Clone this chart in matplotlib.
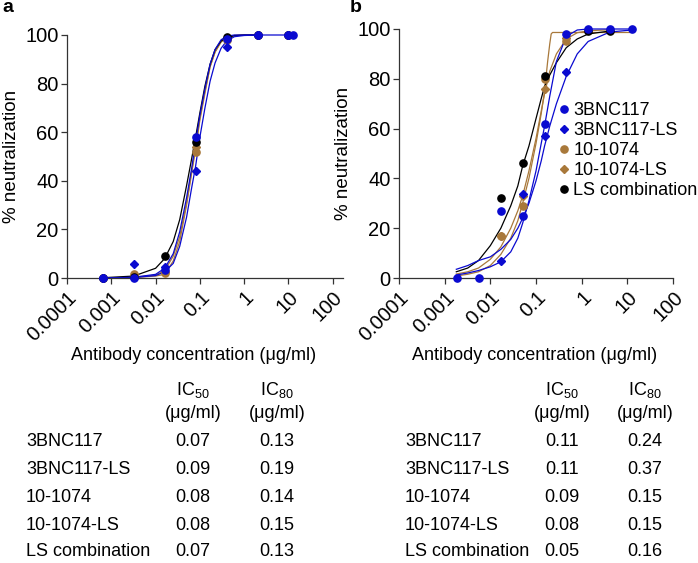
import numpy as np
import matplotlib
matplotlib.use("Agg")
import matplotlib.pyplot as plt

plt.rcParams['font.family'] = ['Liberation Sans', 'DejaVu Sans']
plt.rcParams['mathtext.fontset'] = 'custom'
plt.rcParams['mathtext.rm'] = 'Liberation Sans'

BLUE = '#0a0ad0'
BROWN = '#a8783a'
BLACK = '#000000'

names = ['3BNC117', '3BNC117-LS', '10-1074', '10-1074-LS', 'LS combination']
colors = [BLUE, BLUE, BROWN, BROWN, BLACK]
markers = ['o', 'D', 'o', 'D', 'o']

# ---- panel a: measured points
a_x = [0.00064, 0.0032, 0.016, 0.08, 0.4, 2, 10]
a_pts = {
    '3BNC117':        ([0.00064, 0.0032, 0.016, 0.08, 0.4, 2, 10, 12.5], [0, 0, 3.3, 58, 98.2, 100, 100, 100]),
    '3BNC117-LS':     (a_x, [0, 5.9, 4.5, 44, 95, 100, 100]),
    '10-1074':        (a_x, [0, 1.8, 1.9, 52, 98, 100, 100]),
    '10-1074-LS':     (a_x, [0, 1.0, 2.5, 54, 98.5, 100, 100]),
    'LS combination': (a_x, [0, 0.5, 8.9, 55.8, 99.3, 100, 100]),
}
# ---- panel a: fitted curves
a_cx = [0.00063, 0.0032, 0.01, 0.016, 0.025, 0.035, 0.05, 0.065, 0.08, 0.1,
        0.13, 0.17, 0.22, 0.3, 0.4, 0.6, 1.0, 2.0]
a_curves = {
    '3BNC117':        ([0, 0.3, 1.5, 4, 10, 19, 33, 45, 56, 67, 78, 88, 94, 98, 99.5, 100, 100, 100], 12.5),
    '3BNC117-LS':     ([0, 0.2, 1, 2.5, 6, 13, 25, 37, 46, 58, 70, 81, 88.5, 94.5, 97.5, 99.3, 99.8, 100], None),
    '10-1074':        ([0, 0.2, 0.8, 1.5, 7, 15, 30, 43, 53, 65, 76, 87, 93, 97, 99, 99.8, 100, 100], None),
    '10-1074-LS':     ([0, 0.3, 1.2, 3, 9, 17, 31, 44, 54, 66, 77, 87, 93, 97.5, 99, 99.8, 100, 100], None),
    'LS combination': ([0.1, 0.8, 4, 8, 15, 24, 38, 49, 58, 68, 79, 88, 94, 97.5, 99, 99.7, 100, 100], None),
}

# ---- panel b: measured points
b_pts = {
    '3BNC117':        ([0.0019, 0.0057, 0.0171, 0.0514, 0.154, 0.463, 1.39, 4.17, 12.5], [0, 0, 26.8, 24.8, 62, 98, 100, 100, 100]),
    '3BNC117-LS':     ([0.0171, 0.0514, 0.154, 0.463], [6.8, 33.7, 57, 82.6]),
    '10-1074':        ([0.0171, 0.0514, 0.154, 0.463], [16.9, 28.9, 80, 95.3]),
    '10-1074-LS':     ([0.0171, 0.0514, 0.154, 0.463], [17, 33, 76, 96.2]),
    'LS combination': ([0.0171, 0.0514, 0.154, 1.39, 4.17], [32, 46, 81, 99, 99.2]),
}
# ---- panel b: fitted curves
b_cx = [0.0018, 0.0032, 0.0055, 0.01, 0.017, 0.028, 0.04, 0.051, 0.07, 0.1,
        0.13, 0.154, 0.2, 0.28, 0.46, 0.8, 1.39, 4.17, 12.5]
b_curves = {
    '3BNC117':        (b_cx, [1.2, 2, 3, 4.5, 6.5, 10.5, 16, 22, 31, 43, 54, 61, 73, 87, 97, 99.6, 100, 100, 100]),
    '3BNC117-LS':     (b_cx, [3.5, 5, 7, 8.5, 11.5, 15.5, 20, 24, 30, 39, 47, 53, 61, 70, 81, 90, 95, 98.8, 99.6]),
    '10-1074':        (b_cx[:-1], [1.6, 2.5, 4, 7.5, 12.5, 20, 27, 33, 43, 56, 67, 74, 83, 90, 96, 98.5, 99.3, 99.7]),
    '10-1074-LS':     ([0.0018, 0.0032, 0.0055, 0.01, 0.017, 0.028, 0.04, 0.051, 0.07, 0.1, 0.13, 0.154,
                        0.18, 0.2, 0.215, 0.23, 1.39, 12.5],
                       [0.8, 1.5, 2.5, 5, 9.5, 16, 23, 30, 40, 54, 66, 75, 87, 94, 98, 98.6, 98.6, 98.6]),
    'LS combination': (b_cx[:-1], [2.5, 4, 7, 13, 20, 29, 37, 45, 53, 64, 72, 77, 81.5, 86.5, 92.5, 96, 98, 99.2]),
}

ic_a = [('0.07', '0.13'), ('0.09', '0.19'), ('0.08', '0.14'), ('0.08', '0.15'), ('0.07', '0.13')]
ic_b = [('0.11', '0.24'), ('0.11', '0.37'), ('0.09', '0.15'), ('0.08', '0.15'), ('0.05', '0.16')]

xticks = [0.0001, 0.001, 0.01, 0.1, 1, 10, 100]
xticklabels = ['0.0001', '0.001', '0.01', '0.1', '1', '10', '100']

W, H = 698, 563
fig = plt.figure(figsize=(W / 100, H / 100), dpi=100)

def fx(px):
    return px / W

def fy(py):
    return 1 - py / H

ax_a = fig.add_axes([fx(67), fy(278), fx(343 - 67), (278 - 35) / H])
ax_b = fig.add_axes([fx(399), fy(278), fx(673 - 399), (278 - 29) / H])

order = [2, 3, 4, 1, 0]  # brown under, blue on top

def draw(ax, pts, curves, cx, xmax):
    for i in order:
        n = names[i]
        if ax is ax_a:
            ys, ext = curves[n]
            xs = list(cx)
            ys = list(ys)
            if ext:
                xs.append(ext)
                ys.append(100)
        else:
            xs, ys = curves[n]
        ax.plot(xs, ys, color=colors[i], lw=0.9, clip_on=False, zorder=2)
    handles = {}
    for i in order:
        n = names[i]
        px, py = pts[n]
        ms = 5.2 if markers[i] == 'o' else 3.6
        h, = ax.plot(px, py, ls='none', marker=markers[i], ms=ms, color=colors[i],
                     mec=colors[i], clip_on=False, zorder=3, label=n)
        handles[n] = h
    ax.set_xscale('log')
    ax.set_xlim(0.0001, xmax)
    ax.set_ylim(0, 100)
    ax.set_xticks(xticks)
    ax.set_xticklabels(xticklabels, rotation=45, ha='right', rotation_mode='anchor')
    ax.minorticks_off()
    ax.set_yticks([0, 20, 40, 60, 80, 100])
    for s in ['top', 'right']:
        ax.spines[s].set_visible(False)
    for s in ['left', 'bottom']:
        ax.spines[s].set_color('#333333')
        ax.spines[s].set_linewidth(0.9)
    ax.tick_params(axis='both', length=4, width=0.9, color='#333333', labelsize=14.5)
    ax.tick_params(axis='x', pad=3)
    ax.tick_params(axis='y', pad=2)
    ax.set_ylabel('% neutralization', fontsize=13.5, labelpad=4)
    return handles

draw(ax_a, a_pts, a_curves, a_cx, 170)
hb = draw(ax_b, b_pts, b_curves, None, 100)

leg = fig.legend([hb[n] for n in names], names, loc='upper left',
                 bbox_to_anchor=(fx(559), fy(102)), frameon=False, fontsize=13,
                 handlelength=0.5, handletextpad=0.3, labelspacing=0.17,
                 borderpad=0, borderaxespad=0, numpoints=1)

fig.text(fx(8), fy(8), 'a', fontsize=14, fontweight='bold', va='center', ha='center')
fig.text(fx(356), fy(8), 'b', fontsize=14, fontweight='bold', va='center', ha='center')

fig.text(fx(194), fy(356), 'Antibody concentration (μg/ml)', fontsize=13, ha='center', va='center')
fig.text(fx(535), fy(356), 'Antibody concentration (μg/ml)', fontsize=13, ha='center', va='center')

row_y = [441, 469, 497, 525, 552]
for left, c1, c2, ic in [(26, 193, 277, ic_a), (405, 562, 645, ic_b)]:
    fig.text(fx(c1), fy(390), r'IC$_{\mathregular{50}}$', fontsize=13, ha='center', va='center')
    fig.text(fx(c2), fy(390), r'IC$_{\mathregular{80}}$', fontsize=13, ha='center', va='center')
    fig.text(fx(c1), fy(413), '(μg/ml)', fontsize=13, ha='center', va='center')
    fig.text(fx(c2), fy(413), '(μg/ml)', fontsize=13, ha='center', va='center')
    for y, n, (v50, v80) in zip(row_y, names, ic):
        fig.text(fx(left), fy(y), n, fontsize=13, ha='left', va='center')
        fig.text(fx(c1), fy(y), v50, fontsize=13, ha='center', va='center')
        fig.text(fx(c2), fy(y), v80, fontsize=13, ha='center', va='center')

fig.savefig('out.png', dpi=100)
